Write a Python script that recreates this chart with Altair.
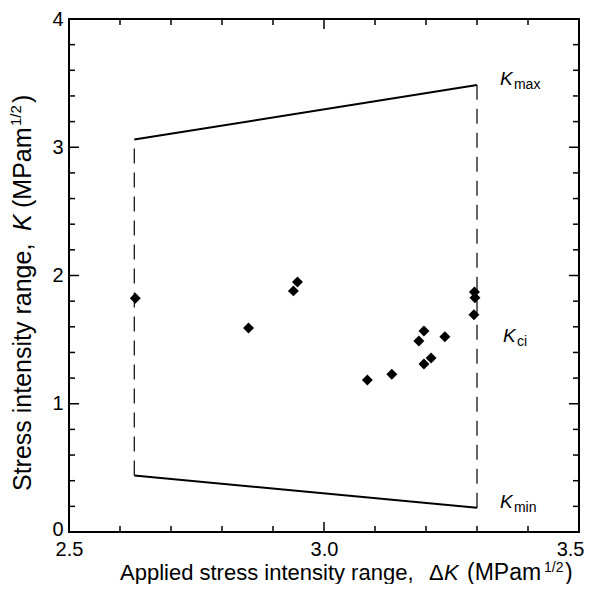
import altair as alt
import pandas as pd

# ---------------- data ----------------
dk_pts = [2.630, 2.852, 2.940, 2.948, 3.085, 3.133, 3.186, 3.196, 3.196, 3.210, 3.237, 3.294, 3.296, 3.295]
kci_pts = [1.822, 1.590, 1.880, 1.950, 1.185, 1.230, 1.490, 1.567, 1.310, 1.357, 1.523, 1.694, 1.827, 1.871]

env_dk = [2.628, 3.300]
env_kmax = [3.060, 3.485]
env_kmin = [0.440, 0.190]

x_tick_labels = [2.5, 3.0, 3.5]
y_tick_labels = [0, 1, 2, 3, 4]
x_major = [3.0]
x_minor = [2.6, 2.7, 2.8, 2.9, 3.1, 3.2, 3.3, 3.4]
y_major = [1, 2, 3]
y_minor = [0.2, 0.4, 0.6, 0.8, 1.2, 1.4, 1.6, 1.8, 2.2, 2.4, 2.6, 2.8, 3.2, 3.4, 3.6, 3.8]

label_names = ["max", "ci", "min"]
label_dk = [3.345, 3.351, 3.345]
label_k = [3.485, 1.480, 0.187]

# ---------------- layout ----------------
W, H = 510, 513
OX, OY = 69, 19   # page position of plot origin
FONT = "Liberation Sans"

xs = alt.Scale(domain=[2.5, 3.5], nice=False, zero=False)
ys = alt.Scale(domain=[0, 4], nice=False, zero=False)

ax_x = alt.Axis(values=x_tick_labels, format=".1f", title=None, labelFlush=False, labelPadding=7,
                labelAlign=alt.condition("datum.value >= 3.5", alt.value("right"), alt.value("center")),
                labelOffset=alt.condition("datum.value >= 3.5", alt.value(5), alt.value(0)))
ax_y = alt.Axis(values=y_tick_labels, format="d", title=None,
                labelOffset=alt.condition("datum.value == 0", alt.value(-3), alt.value(0)))


def X(field):
    return alt.X(field, type="quantitative", scale=xs, axis=ax_x)


def Y(field):
    return alt.Y(field, type="quantitative", scale=ys, axis=ax_y)


pts = pd.DataFrame({"dk": dk_pts, "k": kci_pts})
env = pd.DataFrame({"dk": env_dk, "kmax": env_kmax, "kmin": env_kmin})

points = alt.Chart(pts).mark_point(shape="diamond", filled=True, color="black",
                                   size=120, opacity=1).encode(x=X("dk"), y=Y("k"))

line_max = alt.Chart(env).mark_line(color="black", strokeWidth=2).encode(x=X("dk"), y=Y("kmax"))
line_min = alt.Chart(env).mark_line(color="black", strokeWidth=2).encode(x=X("dk"), y=Y("kmin"))
dashes = alt.Chart(env).mark_rule(color="black", strokeWidth=1.2, strokeDash=[15, 9]).encode(
    x=X("dk"), y=Y("kmin"), y2="kmax")

layers = [dashes, line_max, line_min, points]


# inward ticks
def xticks(vals, length):
    d = pd.DataFrame({"t": vals})
    bot = alt.Chart(d).mark_rule(color="black", strokeWidth=1.5).encode(
        x=X("t"), y=alt.value(H), y2=alt.value(H - length))
    top = alt.Chart(d).mark_rule(color="black", strokeWidth=1.5).encode(
        x=X("t"), y=alt.value(0), y2=alt.value(length))
    return [bot, top]


def yticks(vals, length):
    d = pd.DataFrame({"t": vals})
    left = alt.Chart(d).mark_rule(color="black", strokeWidth=1.5).encode(
        y=Y("t"), x=alt.value(0), x2=alt.value(length))
    right = alt.Chart(d).mark_rule(color="black", strokeWidth=1.5).encode(
        y=Y("t"), x=alt.value(W), x2=alt.value(W - length))
    return [left, right]


layers += xticks(x_minor, 6) + xticks(x_major, 10) + yticks(y_minor, 6) + yticks(y_major, 10)

# K labels
lab = pd.DataFrame({"dk": label_dk, "k": label_k, "sub": label_names})
k_big = alt.Chart(lab).mark_text(text="K", font=FONT, fontSize=19, fontStyle="italic",
                                 align="left", baseline="alphabetic", color="black").encode(
    x=X("dk"), y=Y("k"))
k_sub = alt.Chart(lab).mark_text(font=FONT, fontSize=14, align="left", baseline="alphabetic",
                                 color="black", dx=14, dy=4).encode(
    x=X("dk"), y=Y("k"), text="sub:N")
layers += [k_big, k_sub]

# axis titles built from pieces (page coordinates)
one = pd.DataFrame({"a": [0]})


def piece(s, px, py, size, italic=False, angle=0):
    return alt.Chart(one).mark_text(text=s, font=FONT, fontSize=size,
                                    fontStyle="italic" if italic else "normal",
                                    align="left", baseline="alphabetic", angle=angle,
                                    color="black").encode(
        x=alt.value(px - OX), y=alt.value(py - OY))


# x title
tb = 580
layers += [
    piece("Applied stress intensity range,", 120, tb, 22),
    piece("\u0394", 429, tb, 22),
    piece("K", 444, tb, 22, italic=True),
    piece("(MPam", 467, tb, 23),
    piece("1/2", 544, tb - 8, 14),
    piece(")", 565, tb, 23),
]

# y title (rotated, reads upward)
bx = 31
layers += [
    piece("Stress intensity range,", bx, 491, 25, angle=270),
    piece("K", bx, 231, 25, italic=True, angle=270),
    piece("(MPam", bx, 208, 25, angle=270),
    piece("1/2", bx - 10, 126, 15, angle=270),
    piece(")", bx, 103, 25, angle=270),
]

chart = alt.layer(*layers).properties(
    width=W, height=H,
    autosize=alt.AutoSizeParams(type="none"),
    padding={"left": OX - 8, "top": OY - 8, "right": 5, "bottom": 52},
).configure_view(stroke="black", strokeWidth=2).configure_axis(
    grid=False, domain=False, ticks=False, labelFont=FONT, labelFontSize=20,
    labelColor="black", labelPadding=6)

chart.save("out.html", embed_options={"renderer": "svg", "actions": False})
